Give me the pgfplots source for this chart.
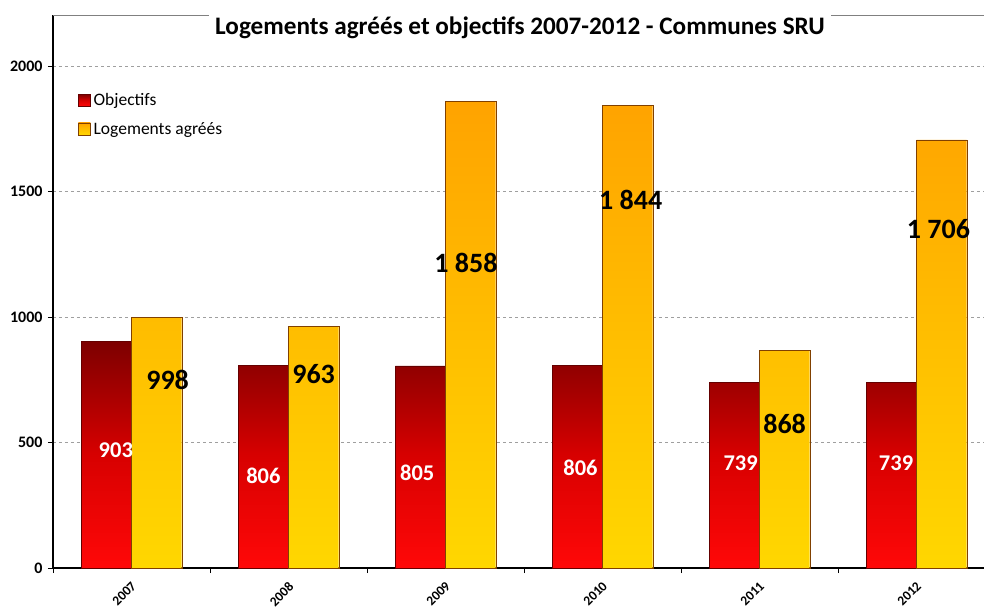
\documentclass[border=0pt]{standalone}
\usepackage{fontspec}
\setmainfont{Carlito}
\usepackage{pgfplots}
\pgfplotsset{compat=1.18}
\definecolor{redtop}{RGB}{125,0,0}
\definecolor{redmid}{RGB}{215,0,0}
\definecolor{redbot}{RGB}{255,8,8}
\definecolor{ortop}{RGB}{255,163,0}
\definecolor{ormid}{RGB}{255,190,0}
\definecolor{orbot}{RGB}{255,215,0}
\begin{document}
\begin{tikzpicture}[x=1pt,y=1pt]
\begin{axis}[
  at={(0,0)}, anchor=south west,
  scale only axis, width=931pt, height=553pt,
  xmin=-0.5, xmax=5.43, ymin=0, ymax=2203,
  axis x line*=bottom, axis y line*=left,
  axis line style={line width=1.6pt, -},
  ytick={0,500,1000,1500,2000},
  ymajorgrids, grid style={dashed, gray!75, line width=0.5pt},
  /pgf/number format/1000 sep={},
  /pgf/number format/assume math mode=true,
  y tick label style={font=\fontsize{16}{16}\selectfont\bfseries, xshift=-2pt},
  tick align=outside, major tick length=5pt, minor tick length=5pt,
  tick style={black, line width=0.8pt},
  xtick={0,...,5}, xticklabels={2007,2008,2009,2010,2011,2012},
  major x tick style={draw=none},
  minor xtick={-0.5,0.5,1.5,2.5,3.5,4.5},
  minor x tick style={draw=black, line width=0.8pt},
  xticklabel style={rotate=45, anchor=north east, font=\fontsize{13.5}{13.5}\selectfont\bfseries, inner sep=1pt, yshift=-4pt, xshift=-5pt},
  legend style={at={(rel axis cs:0.027,0.862)}, anchor=north west, draw=none, fill=none,
    font=\fontsize{17.5}{17.5}\selectfont, row sep=11pt, inner sep=0pt,
    nodes={inner xsep=3pt}},
  legend cell align=left,
  legend image code/.code={\draw[#1, line width=0.3pt] (0pt,-6pt) rectangle (12pt,6pt);},
]
\addplot[ybar, bar width=0.32, bar shift=-0.16, draw=redtop!80!black, line width=0.4pt,
  top color=redtop, bottom color=redbot, middle color=redmid]
  coordinates {(0,903)(1,806)(2,805)(3,806)(4,739)(5,739)};
\addlegendentry{Objectifs}
\addplot[ybar, bar width=0.32, bar shift=0.16, draw=orange!50!black, line width=0.4pt,
  top color=ortop, bottom color=orbot, middle color=ormid]
  coordinates {(0,998)(1,963)(2,1858)(3,1844)(4,868)(5,1706)};
\addlegendentry{Logements agréés}

\draw[gray, line width=0.8pt] (rel axis cs:0,1) -- (rel axis cs:1,1);
\node[fill=white, font=\fontsize{25.2}{25.2}\selectfont\bfseries, inner xsep=6pt, inner ysep=3pt]
  at (rel axis cs:0.5016,0.9765) {Logements agréés et objectifs 2007-2012 - Communes SRU};

\begin{scope}[every node/.style={font=\fontsize{22.5}{22.5}\selectfont\bfseries, white}]
\node at (axis cs:-0.10,470) {903};
\node at (axis cs:0.84,367) {806};
\node at (axis cs:1.82,378) {805};
\node at (axis cs:2.86,398) {806};
\node at (axis cs:3.88,418) {739};
\node at (axis cs:4.87,418) {739};
\end{scope}
\begin{scope}[every node/.style={font=\fontsize{28}{28}\selectfont\bfseries, black}]
\node at (axis cs:0.23,749) {998};
\node at (axis cs:1.16,773) {963};
\node at (axis cs:2.13,1215) {1 858};
\node at (axis cs:3.18,1466) {1 844};
\node at (axis cs:4.16,574) {868};
\node at (axis cs:5.14,1350) {1 706};
\end{scope}
\end{axis}
\pgfresetboundingbox
\path (-53pt,-42pt) rectangle (931pt,568pt);
\end{tikzpicture}
\end{document}
